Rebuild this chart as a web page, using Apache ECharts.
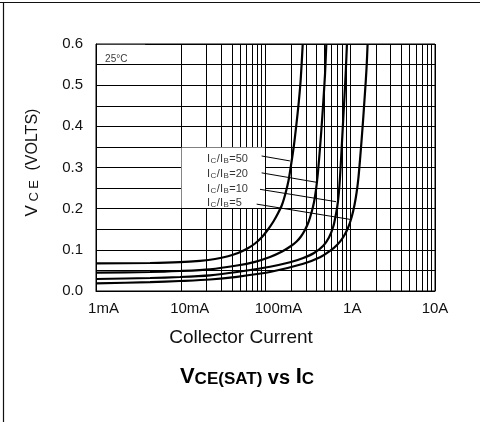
<!DOCTYPE html>
<html><head><meta charset="utf-8">
<script src="https://cdn.jsdelivr.net/npm/echarts@6/dist/echarts.min.js"></script>
<style>html,body{margin:0;padding:0;background:#fff}#c{width:480px;height:422px}</style>
</head><body><div id="c"></div>
<script>
// ---- data (collector current in A, VCE in V) ----
const xTickValues = [0.001, 0.01, 0.1, 1, 10];
const xTickLabels = ['1mA', '10mA', '100mA', '1A', '10A'];
const yTickLabels = ['0.0', '0.1', '0.2', '0.3', '0.4', '0.5', '0.6'];
const seriesNames = ['Ic/Ib=50', 'Ic/Ib=20', 'Ic/Ib=10', 'Ic/Ib=5'];

const ratio50 = [[0.001,0.067],[0.00434,0.068],[0.0098,0.070],[0.0169,0.0734],[0.0254,0.0777],[0.0361,0.0843],[0.0474,0.0923],[0.0605,0.1025],[0.0752,0.1154],[0.091,0.1312],[0.107,0.1494],[0.124,0.1688],[0.140,0.1882],[0.157,0.2101],[0.172,0.2368],[0.187,0.2684],[0.201,0.3085],[0.216,0.3522],[0.231,0.4032],[0.247,0.4591],[0.261,0.5174],[0.275,0.6]];
const ratio20 = [[0.001,0.0445],[0.00434,0.0461],[0.0098,0.0486],[0.0221,0.0527],[0.0461,0.0619],[0.0752,0.0709],[0.113,0.0826],[0.157,0.0959],[0.200,0.1093],[0.233,0.1202],[0.262,0.1324],[0.292,0.1482],[0.322,0.1676],[0.349,0.1907],[0.374,0.2162],[0.394,0.2453],[0.413,0.2818],[0.430,0.3231],[0.448,0.3692],[0.467,0.4202],[0.485,0.4712],[0.504,0.5271],[0.522,0.6]];
const ratio10 = [[0.001,0.0291],[0.00434,0.0316],[0.0098,0.034],[0.0221,0.0381],[0.0461,0.0461],[0.113,0.059],[0.195,0.0697],[0.279,0.0802],[0.374,0.0923],[0.477,0.1093],[0.561,0.13],[0.631,0.1567],[0.679,0.187],[0.717,0.2186],[0.745,0.255],[0.772,0.306],[0.799,0.3619],[0.828,0.4202],[0.858,0.4785],[0.887,0.5368],[0.914,0.6]];
const ratio5  = [[0.001,0.0187],[0.00434,0.0214],[0.0098,0.0243],[0.0221,0.0279],[0.0461,0.0345],[0.113,0.0461],[0.279,0.0661],[0.440,0.0819],[0.577,0.0972],[0.707,0.1129],[0.829,0.1312],[0.940,0.153],[1.040,0.1797],[1.122,0.2089],[1.191,0.2405],[1.248,0.2745],[1.303,0.3182],[1.361,0.3668],[1.418,0.4153],[1.472,0.4639],[1.527,0.5125],[1.568,0.5538],[1.602,0.6]];

// leader lines from the labels to the curves
const leader50 = [[0.090,0.328],[0.194,0.316]];
const leader20 = [[0.090,0.287],[0.402,0.264]];
const leader10 = [[0.0861,0.247],[0.679,0.217]];
const leader5  = [[0.0787,0.211],[0.993,0.174]];
// label anchors (left edge of text)
const labelAnchors = [[0.0204,0.323],[0.0204,0.287],[0.0204,0.250],[0.0204,0.216]];
const tempLabel = '25°C';
const tempAnchor = [0.00128,0.5635];
// white boxes behind annotations
const tempBox = [[0.00103,0.5514],[0.0038,0.598]];
const labelBox = [[0.0102,0.2016],[0.0987,0.3486]];

// minor log grid (2..9 in each decade)
const minorX = [];
for (let d = 0; d < 4; d++) for (let k = 2; k <= 9; k++) minorX.push(+(k * Math.pow(10, d - 3)).toPrecision(3));

const FONT = '"Liberation Sans", Arial, Helvetica, sans-serif';
const labelOffsets = [15, 18, 26, 4, 0];

const chart = echarts.init(document.getElementById('c'), null, {renderer: 'canvas'});

function subLabel(name) {
  const m = name.match(/^Ic\/Ib=(\d+)$/);
  return '{n|I}{s|C}{n|/I}{s|B}{n|=' + m[1] + '}';
}

const curveData = [ratio50, ratio20, ratio10, ratio5];
const leaders = [leader50, leader20, leader10, leader5];

const series = [];
series.push({
  type: 'line', data: [], z: 1, silent: true, animation: false,
  markLine: {
    z: 1, silent: true, symbol: ['none', 'none'], animation: false,
    label: {show: false},
    lineStyle: {color: '#000', width: 1, type: 'solid'},
    emphasis: {disabled: true},
    data: minorX.map(v => ({xAxis: v}))
  }
});
series.push({
  type: 'line', data: [], z: 2, silent: true, animation: false,
  markArea: {
    z: 2, silent: true, animation: false,
    itemStyle: {color: '#fff', borderWidth: 0},
    emphasis: {disabled: true},
    data: [
      [{xAxis: tempBox[0][0], yAxis: tempBox[0][1]}, {xAxis: tempBox[1][0], yAxis: tempBox[1][1]}],
      [{xAxis: labelBox[0][0], yAxis: labelBox[0][1]}, {xAxis: labelBox[1][0], yAxis: labelBox[1][1]}]
    ]
  }
});
curveData.forEach((d, i) => {
  series.push({
    name: seriesNames[i], type: 'line', data: d, z: 3, showSymbol: false,
    smooth: 0.25,
    animation: false, silent: true,
    lineStyle: {color: '#000', width: 2.2}
  });
});
leaders.forEach((d, i) => {
  series.push({
    type: 'line', data: d, z: 3, showSymbol: false, animation: false, silent: true,
    lineStyle: {color: '#000', width: 1}
  });
});
series.push({
  type: 'scatter', z: 4, symbolSize: 0, animation: false, silent: true,
  data: labelAnchors.map((p, i) => ({value: p, name: seriesNames[i]})),
  label: {
    show: true, position: [0, 0], align: 'left', verticalAlign: 'middle',
    formatter: p => subLabel(p.name),
    rich: {
      n: {fontFamily: FONT, fontSize: 11, color: '#000', verticalAlign: 'bottom', lineHeight: 13},
      s: {fontFamily: FONT, fontSize: 8, color: '#000', verticalAlign: 'bottom', lineHeight: 13, padding: [0, 0.5, 0, 0.5]}
    }
  }
});
series.push({
  type: 'scatter', z: 4, symbolSize: 0, animation: false, silent: true,
  data: [{value: tempAnchor, name: tempLabel}],
  label: {
    show: true, position: [0, 0], align: 'left', verticalAlign: 'middle',
    formatter: p => p.name, fontFamily: FONT, fontSize: 10, color: '#000'
  }
});

const option = {
  backgroundColor: '#fff',
  animation: false,
  grid: {left: 96, right: 45, top: 44, bottom: 131, show: true, borderColor: '#000', borderWidth: 1, backgroundColor: 'transparent'},
  xAxis: {
    type: 'log', logBase: 10, min: xTickValues[0], max: xTickValues[xTickValues.length - 1],
    axisLine: {show: true, lineStyle: {color: '#000', width: 1}},
    axisTick: {show: false},
    splitLine: {show: true, lineStyle: {color: '#000', width: 1}},
    axisLabel: {
      margin: 10, color: '#111', fontFamily: FONT, fontSize: 15,
      formatter: v => {
        const idx = Math.round(Math.log10(v)) - Math.round(Math.log10(xTickValues[0]));
        return '{t' + idx + '|' + xTickLabels[idx] + '}';
      },
      rich: Object.fromEntries(labelOffsets.map((o, i) => ['t' + i, {padding: [0, 0, 0, o], fontFamily: FONT, fontSize: 15, color: '#111'}]))
    }
  },
  yAxis: {
    type: 'value', min: 0, max: 0.6, interval: 0.1,
    axisLine: {show: true, lineStyle: {color: '#000', width: 1}},
    axisTick: {show: false},
    splitLine: {show: true, lineStyle: {color: '#000', width: 1}},
    minorTick: {show: false, splitNumber: 2},
    minorSplitLine: {show: true, lineStyle: {color: '#000', width: 1}},
    axisLabel: {
      margin: 13, color: '#111', fontFamily: FONT, fontSize: 15,
      formatter: v => yTickLabels[Math.round(v * 10)]
    }
  },
  graphic: [
    {type: 'line', silent: true, shape: {x1: 0, y1: 2.5, x2: 480, y2: 2.5}, style: {stroke: '#111', lineWidth: 1.2}},
    {type: 'line', silent: true, shape: {x1: 3.5, y1: 2, x2: 3.5, y2: 422}, style: {stroke: '#111', lineWidth: 1.2}},
    {type: 'text', silent: true, x: 32, y: 162.5, rotation: Math.PI / 2,
      style: {
        text: '{v|V}{s|C}{s|E}{w| (VOLTS)}', align: 'center', verticalAlign: 'middle',
        rich: {
          v: {font: '17px ' + FONT, fill: '#111', verticalAlign: 'bottom', lineHeight: 18},
          s: {font: '13px ' + FONT, fill: '#111', verticalAlign: 'bottom', lineHeight: 18, padding: [0, 0, 0, 3.5]},
          w: {font: '16px ' + FONT, fill: '#111', verticalAlign: 'bottom', lineHeight: 18, padding: [0, 0, 0, 5]}
        }
      }},
    {type: 'text', silent: true, x: 241, y: 338,
      style: {text: 'Collector Current', font: '19px ' + FONT, fill: '#111', align: 'center', verticalAlign: 'middle'}},
    {type: 'text', silent: true, x: 247, y: 376,
      style: {
        text: '{a|V}{b|CE(SAT)}{c| vs }{a|I}{b|C}', align: 'center', verticalAlign: 'middle',
        rich: {
          a: {font: 'bold 22px ' + FONT, fill: '#000', verticalAlign: 'bottom', lineHeight: 24},
          b: {font: 'bold 17px ' + FONT, fill: '#000', verticalAlign: 'bottom', lineHeight: 24},
          c: {font: 'bold 20px ' + FONT, fill: '#000', verticalAlign: 'bottom', lineHeight: 24}
        }
      }}
  ],
  series: series
};
chart.setOption(option);
</script>
</body></html>
